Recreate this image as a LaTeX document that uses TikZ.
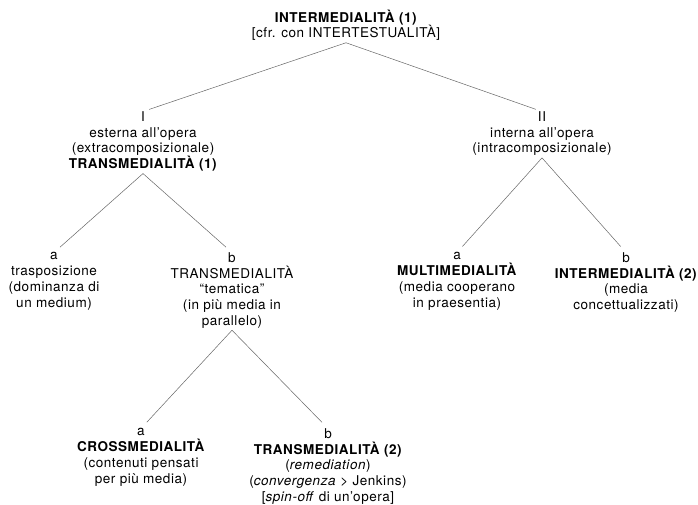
\documentclass[tikz,border=0pt]{standalone}
\usepackage{fontspec}
\setmainfont{TeX Gyre Heros}[LetterSpace=4]
\usepackage{tikz}

\begin{document}
\begin{tikzpicture}[x=1pt,y=-1pt,
    lbl/.style={align=center,anchor=north,inner sep=0pt,
      font=\fontsize{13.5}{15.7}\selectfont,
      execute at begin node=\strut,execute at end node=\strut},
    edge/.style={draw=black!60,line width=0.5pt,shorten >=8pt}]
  \useasboundingbox (0,0) rectangle (698,504);
  \node[lbl] (root) at (346,9.5) {\textbf{INTERMEDIALITÀ (1)}\\{}[cfr. con INTERTESTUALITÀ]};
  \node[lbl] (ext) at (143,111.5) {I\\esterna all’opera\\(extracomposizionale)\\\textbf{TRANSMEDIALITÀ (1)}};
  \node[lbl] (intn) at (542,111.5) {II\\interna all’opera\\(intracomposizionale)};
  \node[lbl] (trasp) at (54,252.5) {a\\trasposizione\\(dominanza di\\un medium)};
  \node[lbl] (tema) at (232,252.5) {b\\TRANSMEDIALITÀ\\“tematica”\\(in più media in\\parallelo)};
  \node[lbl] (multi) at (457,252.5) {a\\\textbf{MULTIMEDIALITÀ}\\(media cooperano\\in praesentia)};
  \node[lbl] (inter) at (626,252.5) {b\\\textbf{INTERMEDIALITÀ (2)}\\(media\\concettualizzati)};
  \node[lbl] (cross) at (141,428.5) {a\\\textbf{CROSSMEDIALITÀ}\\(contenuti pensati\\per più media)};
  \node[lbl] (trans) at (328,428.5) {b\\\textbf{TRANSMEDIALITÀ (2)}\\(\emph{remediation})\\(\emph{convergenza} > Jenkins)\\{}[\emph{spin-off} di un’opera]};
  % rami
  \draw[edge,shorten >=6.5pt] (root.south) -- (ext.north);
  \draw[edge,shorten >=6.5pt] (root.south) -- (intn.north);
  \draw[edge] (ext.south) -- (trasp.north);
  \draw[edge] (ext.south) -- (tema.north);
  \draw[edge] (intn.south) -- (multi.north);
  \draw[edge] (intn.south) -- (inter.north);
  \draw[edge,shorten >=8.5pt] (tema.south) -- (cross.north);
  \draw[edge,shorten >=8.5pt] (tema.south) -- (trans.north);
\end{tikzpicture}
\end{document}
